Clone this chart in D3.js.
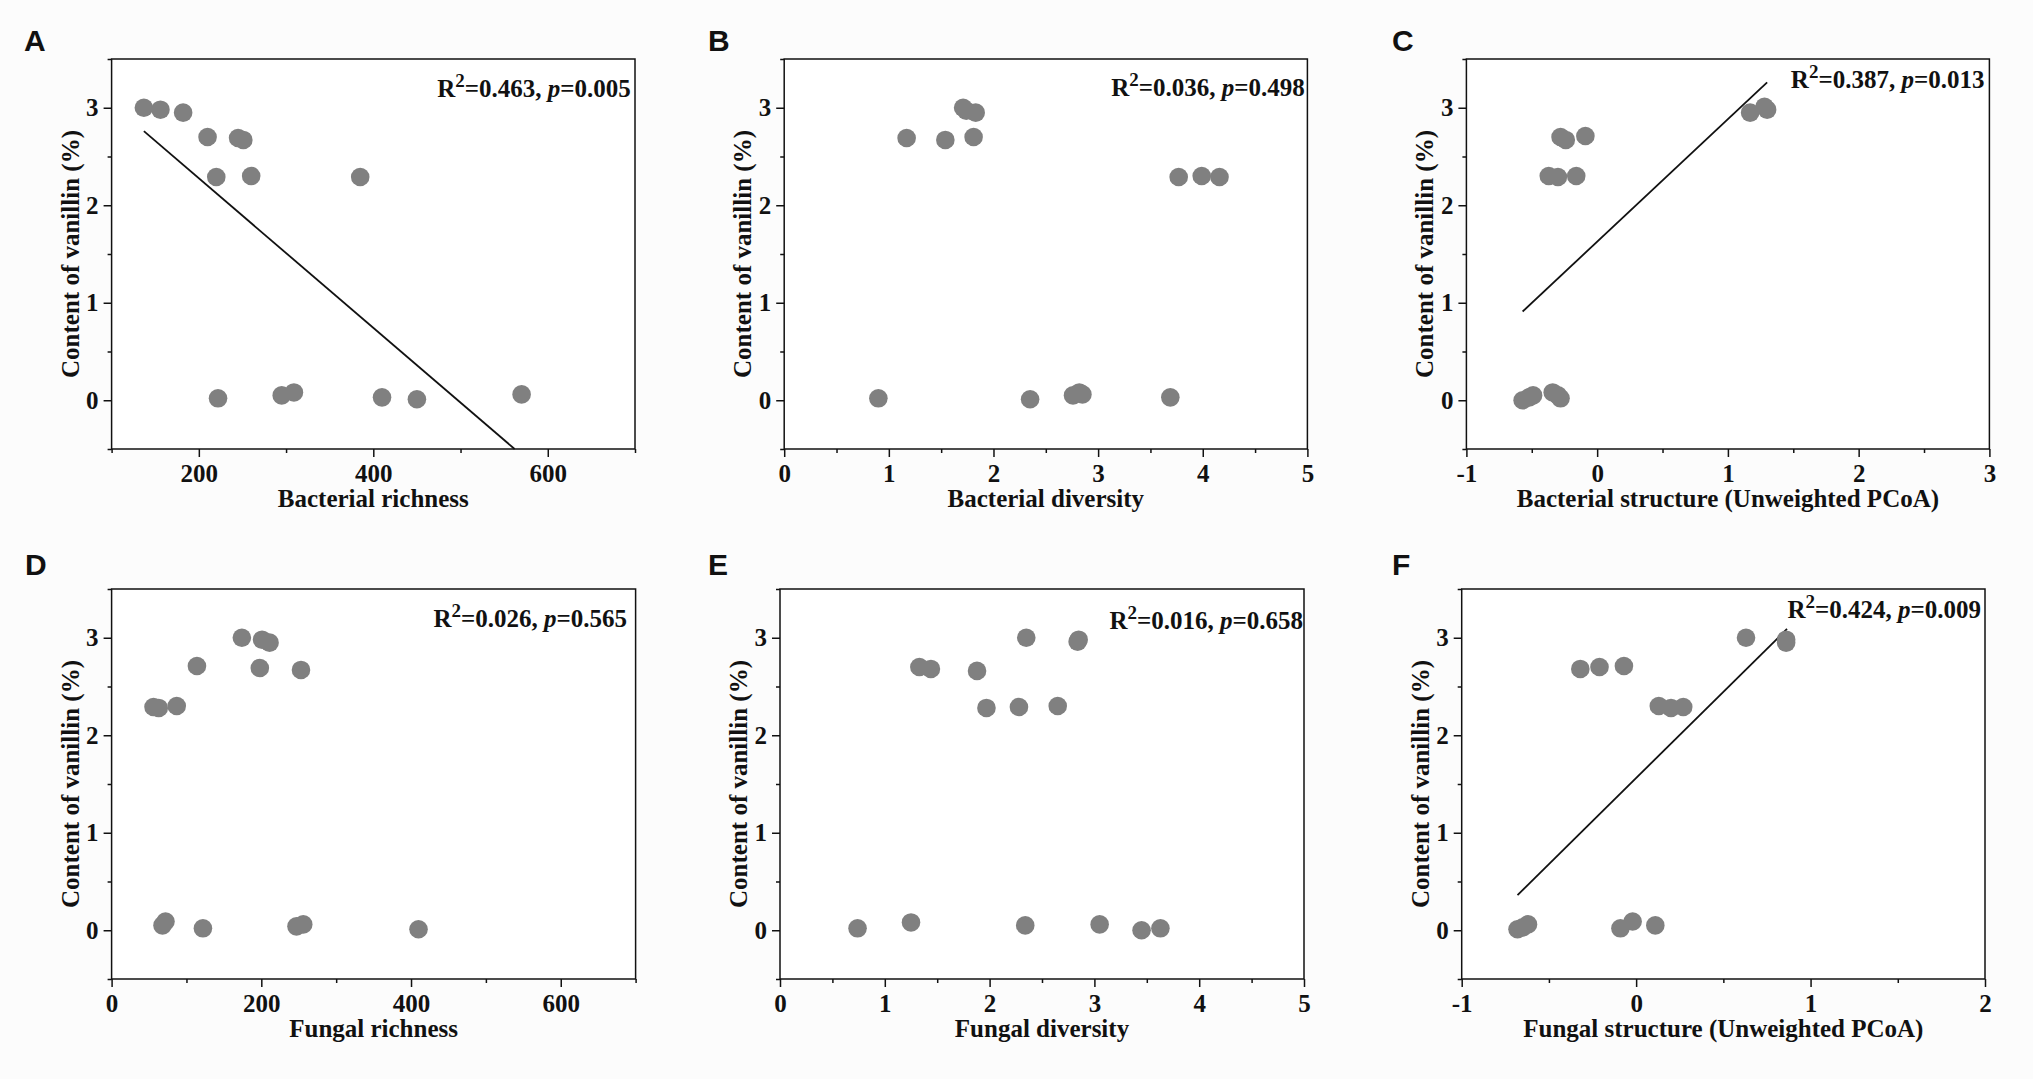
<!DOCTYPE html>
<html>
<head>
<meta charset="utf-8">
<script src="https://cdn.jsdelivr.net/npm/d3@7"></script>
<style>
  body { margin: 0; background: #fcfcfc; }
  svg text { font-family: "Liberation Serif", "Times New Roman", serif; font-weight: bold; fill: #111; }
  svg text.letter { font-family: "Liberation Sans", Arial, sans-serif; }
</style>
</head>
<body>
<svg id="fig" width="2033" height="1079"></svg>
<script>
// ---- data ----
const panelIds = ["A", "B", "C", "D", "E", "F"];
const xTitles = [
  "Bacterial richness", "Bacterial diversity", "Bacterial structure (Unweighted PCoA)",
  "Fungal richness", "Fungal diversity", "Fungal structure (Unweighted PCoA)"
];
const yTitle = "Content of vanillin (%)";
const r2Values = ["0.463", "0.036", "0.387", "0.026", "0.016", "0.424"];
const pValues = ["0.005", "0.498", "0.013", "0.565", "0.658", "0.009"];

const yDomain = [-0.5, 3.5];
const yTicks = [0, 1, 2, 3];
const yMinor = [-0.5, 0.5, 1.5, 2.5, 3.5];

const xDomains = [[100, 700], [0, 5], [-1, 3], [0, 700], [0, 5], [-1, 2]];
const xTicks = [[200, 400, 600], [0, 1, 2, 3, 4, 5], [-1, 0, 1, 2, 3],
                [0, 200, 400, 600], [0, 1, 2, 3, 4, 5], [-1, 0, 1, 2]];
const xMinor = [[100, 300, 500, 700], [0.5, 1.5, 2.5, 3.5, 4.5], [-0.5, 0.5, 1.5, 2.5],
                [100, 300, 500, 700], [0.5, 1.5, 2.5, 3.5, 4.5], [-0.5, 0.5, 1.5]];

const bacRichness = [137, 156, 182, 210, 245, 251, 220, 260, 385, 222, 295, 309, 410, 450, 570];
const vanillinA   = [3.00, 2.98, 2.95, 2.70, 2.69, 2.67, 2.29, 2.30, 2.29, 0.02, 0.05, 0.08, 0.03, 0.01, 0.06];

const bacDiversity = [0.90, 1.17, 1.54, 1.81, 1.71, 1.74, 1.83, 2.35, 2.76, 2.82, 2.85, 3.69, 3.77, 3.99, 4.16];
const vanillinB    = [0.02, 2.69, 2.67, 2.70, 3.00, 2.97, 2.95, 0.01, 0.05, 0.08, 0.06, 0.03, 2.29, 2.30, 2.29];

const bacStructure = [-0.57, -0.52, -0.49, -0.34, -0.30, -0.28, -0.37, -0.30, -0.16, -0.28, -0.24, -0.09, 1.17, 1.28, 1.30];
const vanillinC    = [0.00, 0.03, 0.05, 0.08, 0.05, 0.02, 2.30, 2.29, 2.30, 2.70, 2.67, 2.71, 2.95, 3.01, 2.98];

const fungRichness = [56, 63, 87, 114, 174, 201, 211, 198, 253, 68, 72, 122, 247, 256, 410];
const vanillinD    = [2.29, 2.28, 2.30, 2.71, 3.00, 2.98, 2.95, 2.69, 2.67, 0.05, 0.09, 0.02, 0.04, 0.06, 0.01];

const fungDiversity = [0.74, 1.25, 1.33, 1.44, 1.88, 1.97, 2.28, 2.65, 2.35, 2.84, 2.85, 2.34, 3.05, 3.45, 3.63];
const vanillinE     = [0.02, 0.08, 2.70, 2.68, 2.66, 2.28, 2.29, 2.30, 3.00, 2.96, 2.98, 0.05, 0.06, 0.00, 0.02];

const fungStructure = [-0.68, -0.65, -0.62, -0.32, -0.21, -0.07, 0.13, 0.20, 0.27, 0.63, 0.86, 0.86, -0.09, -0.02, 0.11];
const vanillinF     = [0.01, 0.03, 0.06, 2.68, 2.70, 2.71, 2.30, 2.28, 2.29, 3.00, 2.95, 2.98, 0.02, 0.09, 0.05];

// fitted lines (end points as drawn), null where no line is shown
const fitA = [[137, 2.76], [562, -0.5]];
const fitC = [[-0.57, 0.91], [1.30, 3.26]];
const fitF = [[-0.68, 0.36], [0.865, 3.09]];

const xSeries = [bacRichness, bacDiversity, bacStructure, fungRichness, fungDiversity, fungStructure];
const ySeries = [vanillinA, vanillinB, vanillinC, vanillinD, vanillinE, vanillinF];
const fits = [fitA, null, fitC, null, null, fitF];

// ---- layout ----
const layout = [
  { left: 111.6, top: 59, w: 523.4, h: 390, lx: 24, ly: 51, annDx: 4.3, annDy: 37.7 },
  { left: 784.2, top: 59, w: 523.2, h: 390, lx: 708, ly: 51, annDx: 2.6, annDy: 37.4 },
  { left: 1466.4, top: 59, w: 523, h: 390, lx: 1392, ly: 51, annDx: 5, annDy: 28.8 },
  { left: 111.6, top: 589, w: 524, h: 390, lx: 25, ly: 575, annDx: 8.6, annDy: 37.8 },
  { left: 780, top: 589, w: 524, h: 390, lx: 708, ly: 575, annDx: 1, annDy: 39.5 },
  { left: 1461.7, top: 589, w: 523.3, h: 390, lx: 1392, ly: 575, annDx: 4, annDy: 29.2 }
];

const svg = d3.select("#fig");
const fs = 25;
const fmt = d => String(d);

panelIds.forEach((id, i) => {
  const L = layout[i];
  const g = svg.append("g").attr("transform", `translate(${L.left},${L.top})`);

  const x = d3.scaleLinear().domain(xDomains[i]).range([0, L.w]);
  const y = d3.scaleLinear().domain(yDomain).range([L.h, 0]);

  g.append("rect")
    .attr("width", L.w).attr("height", L.h)
    .attr("fill", "#fff");

  // minor ticks
  g.append("g")
    .attr("transform", `translate(0,${L.h})`)
    .call(d3.axisBottom(x).tickValues(xMinor[i]).tickSize(4).tickFormat(""))
    .call(a => a.select(".domain").remove());
  g.append("g")
    .call(d3.axisLeft(y).tickValues(yMinor).tickSize(4).tickFormat(""))
    .call(a => a.select(".domain").remove());

  // major ticks
  g.append("g")
    .attr("transform", `translate(0,${L.h})`)
    .call(d3.axisBottom(x).tickValues(xTicks[i]).tickSize(8).tickPadding(7).tickFormat(fmt))
    .call(a => a.select(".domain").remove())
    .call(a => a.selectAll("text").attr("font-size", fs));
  g.append("g")
    .call(d3.axisLeft(y).tickValues(yTicks).tickSize(8).tickPadding(5).tickFormat(fmt))
    .call(a => a.select(".domain").remove())
    .call(a => a.selectAll("text").attr("font-size", fs));

  g.selectAll(".tick line").attr("stroke", "#111").attr("stroke-width", 1.5);

  // frame
  g.append("rect")
    .attr("width", L.w).attr("height", L.h)
    .attr("fill", "none").attr("stroke", "#111").attr("stroke-width", 1.5);

  // fitted line
  if (fits[i]) {
    g.append("path")
      .datum(fits[i])
      .attr("d", d3.line().x(d => x(d[0])).y(d => y(d[1])))
      .attr("fill", "none").attr("stroke", "#111").attr("stroke-width", 1.8);
  }

  // points
  g.append("g")
    .selectAll("circle")
    .data(d3.zip(xSeries[i], ySeries[i]))
    .join("circle")
    .attr("cx", d => x(d[0]))
    .attr("cy", d => y(d[1]))
    .attr("r", 9.3)
    .attr("fill", "#808080");

  // annotation
  const ann = g.append("text")
    .attr("x", L.w - L.annDx).attr("y", L.annDy)
    .attr("text-anchor", "end").attr("font-size", fs);
  ann.append("tspan").text("R");
  ann.append("tspan").attr("font-size", 19).attr("dy", -10).text("2");
  ann.append("tspan").attr("dy", 10).text("=" + r2Values[i] + ", ");
  ann.append("tspan").attr("font-style", "italic").text("p");
  ann.append("tspan").text("=" + pValues[i]);

  // axis titles
  g.append("text")
    .attr("x", L.w / 2).attr("y", L.h + 58)
    .attr("text-anchor", "middle").attr("font-size", fs)
    .text(xTitles[i]);
  g.append("text")
    .attr("transform", `translate(-33,${L.h / 2}) rotate(-90)`)
    .attr("text-anchor", "middle").attr("font-size", fs)
    .text(yTitle);

  // panel letter
  svg.append("text")
    .attr("class", "letter")
    .attr("x", L.lx).attr("y", L.ly)
    .attr("font-size", 30)
    .text(id);
});
</script>
</body>
</html>
